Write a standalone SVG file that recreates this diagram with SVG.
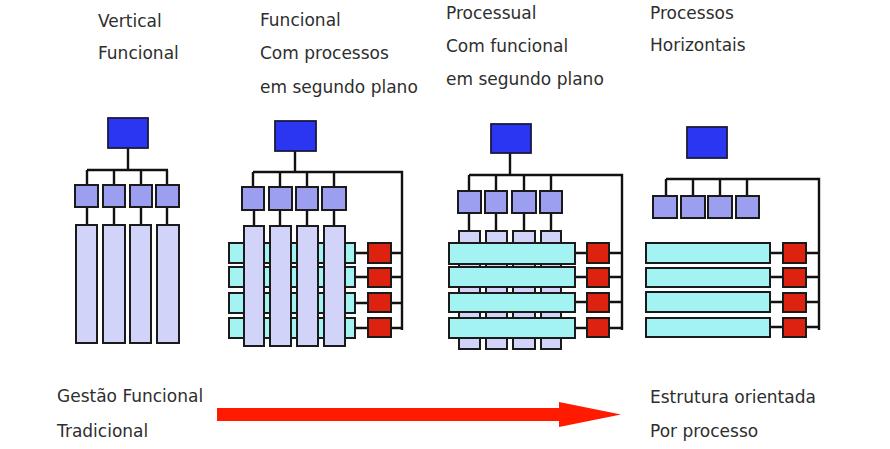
<svg xmlns="http://www.w3.org/2000/svg" width="890" height="449" viewBox="0 0 890 449">
<style>
.t{font-family:"DejaVu Sans","Liberation Sans",sans-serif;font-size:17px;fill:#2e2e2e}
.top{fill:#2a36f2;stroke:#1a1a40;stroke-width:1.8}
.sub{fill:#9c9ff0;stroke:#1a1a1a;stroke-width:2}
.col{fill:#d2d3f8;stroke:#1a1a1a;stroke-width:2}
.row{fill:#a3f3f3;stroke:#1a1a1a;stroke-width:2}
.red{fill:#dd2210;stroke:#1a1a1a;stroke-width:2}
.ln{stroke:#111;stroke-width:2.4;fill:none}
</style>
<rect width="890" height="449" fill="#fff"/>

<g id="labels">
<text class="t" x="98" y="27">Vertical</text>
<text class="t" x="98" y="59">Funcional</text>
<text class="t" x="260" y="26">Funcional</text>
<text class="t" x="260" y="59">Com processos</text>
<text class="t" x="260" y="93">em segundo plano</text>
<text class="t" x="446" y="19">Processual</text>
<text class="t" x="446" y="52">Com funcional</text>
<text class="t" x="446" y="85">em segundo plano</text>
<text class="t" x="650" y="19">Processos</text>
<text class="t" x="650" y="51">Horizontais</text>
<text class="t" x="57" y="402">Gestão Funcional</text>
<text class="t" x="57" y="437">Tradicional</text>
<text class="t" x="650" y="403">Estrutura orientada</text>
<text class="t" x="650" y="437">Por processo</text>
</g>

<g id="connectors">
<!-- panel 1 -->
<path class="ln" d="M128 148V170M87 170H168M87 170V185M114 170V185M141 170V185M167 170V185M87 207V225M114 207V225M141 207V225M167 207V225"/>
<!-- panel 2 -->
<path class="ln" d="M295 151V172M253 172H402V330M253 172V187M280 172V187M307 172V187M334 172V187M254 210V226M280 210V226M307 210V226M334 210V226"/>
<path class="ln" d="M355 253H368M391 253H402M355 277H368M391 277H402M355 303H368M391 303H402M355 328H368M391 328H402"/>
<!-- panel 3 -->
<path class="ln" d="M510 153V175M469 175H622V330M469 175V191M496 175V191M524 175V191M551 175V191M469 213V231M496 213V231M524 213V231M551 213V231"/>
<path class="ln" d="M575 253H587M609 253H622M575 277H587M609 277H622M575 302H587M609 302H622M575 328H587M609 328H622"/>
<!-- panel 4 -->
<path class="ln" d="M666 179H819V330M666 179V196M693 179V196M720 179V196M747 179V196"/>
<path class="ln" d="M770 253H783M806 253H819M770 277H783M806 277H819M770 302H783M806 302H819M770 327H783M806 327H819"/>
</g>

<g id="panel1">
<rect class="top" x="108" y="118" width="40" height="30"/>
<rect class="sub" x="75" y="185" width="23" height="22"/>
<rect class="sub" x="103" y="185" width="22" height="22"/>
<rect class="sub" x="130" y="185" width="22" height="22"/>
<rect class="sub" x="156" y="185" width="23" height="22"/>
<rect class="col" x="76" y="225" width="21" height="118"/>
<rect class="col" x="103" y="225" width="22" height="118"/>
<rect class="col" x="130" y="225" width="21" height="118"/>
<rect class="col" x="157" y="225" width="22" height="118"/>
</g>

<g id="panel2">
<rect class="top" x="275" y="121" width="41" height="30"/>
<rect class="sub" x="242" y="187" width="22" height="23"/>
<rect class="sub" x="269" y="187" width="23" height="23"/>
<rect class="sub" x="296" y="187" width="22" height="23"/>
<rect class="sub" x="322" y="187" width="24" height="23"/>
<rect class="row" x="229" y="243" width="126" height="20"/>
<rect class="row" x="229" y="267" width="126" height="20"/>
<rect class="row" x="229" y="293" width="126" height="20"/>
<rect class="row" x="229" y="318" width="126" height="20"/>
<rect class="col" x="244" y="226" width="20" height="120"/>
<rect class="col" x="270" y="226" width="21" height="120"/>
<rect class="col" x="297" y="226" width="21" height="120"/>
<rect class="col" x="324" y="226" width="21" height="120"/>
<rect class="red" x="368" y="243" width="23" height="20"/>
<rect class="red" x="368" y="268" width="23" height="19"/>
<rect class="red" x="368" y="293" width="23" height="19"/>
<rect class="red" x="368" y="318" width="23" height="19"/>
</g>

<g id="panel3">
<rect class="top" x="491" y="124" width="40" height="29"/>
<rect class="sub" x="458" y="191" width="23" height="22"/>
<rect class="sub" x="485" y="191" width="22" height="22"/>
<rect class="sub" x="512" y="191" width="24" height="22"/>
<rect class="sub" x="540" y="191" width="22" height="22"/>
<rect class="col" x="459" y="231" width="21" height="118"/>
<rect class="col" x="486" y="231" width="21" height="118"/>
<rect class="col" x="513" y="231" width="22" height="118"/>
<rect class="col" x="541" y="231" width="20" height="118"/>
<rect class="row" x="449" y="243" width="126" height="21"/>
<rect class="row" x="449" y="267" width="126" height="20"/>
<rect class="row" x="449" y="293" width="126" height="19"/>
<rect class="row" x="449" y="318" width="126" height="20"/>
<rect class="red" x="587" y="243" width="22" height="20"/>
<rect class="red" x="587" y="268" width="22" height="19"/>
<rect class="red" x="587" y="293" width="22" height="19"/>
<rect class="red" x="587" y="318" width="22" height="19"/>
</g>

<g id="panel4">
<rect class="top" x="687" y="127" width="40" height="31"/>
<rect class="sub" x="653" y="196" width="24" height="22"/>
<rect class="sub" x="681" y="196" width="24" height="22"/>
<rect class="sub" x="708" y="196" width="24" height="22"/>
<rect class="sub" x="736" y="196" width="23" height="22"/>
<rect class="row" x="646" y="243" width="124" height="20"/>
<rect class="row" x="646" y="268" width="124" height="19"/>
<rect class="row" x="646" y="292" width="124" height="20"/>
<rect class="row" x="646" y="318" width="124" height="19"/>
<rect class="red" x="783" y="243" width="23" height="20"/>
<rect class="red" x="783" y="268" width="23" height="19"/>
<rect class="red" x="783" y="293" width="23" height="19"/>
<rect class="red" x="783" y="318" width="23" height="19"/>
</g>

<g id="arrow">
<polygon points="217,408 559,408 559,402 621,414.5 559,427 559,421 217,421" fill="#ff1a00"/>
</g>
</svg>
